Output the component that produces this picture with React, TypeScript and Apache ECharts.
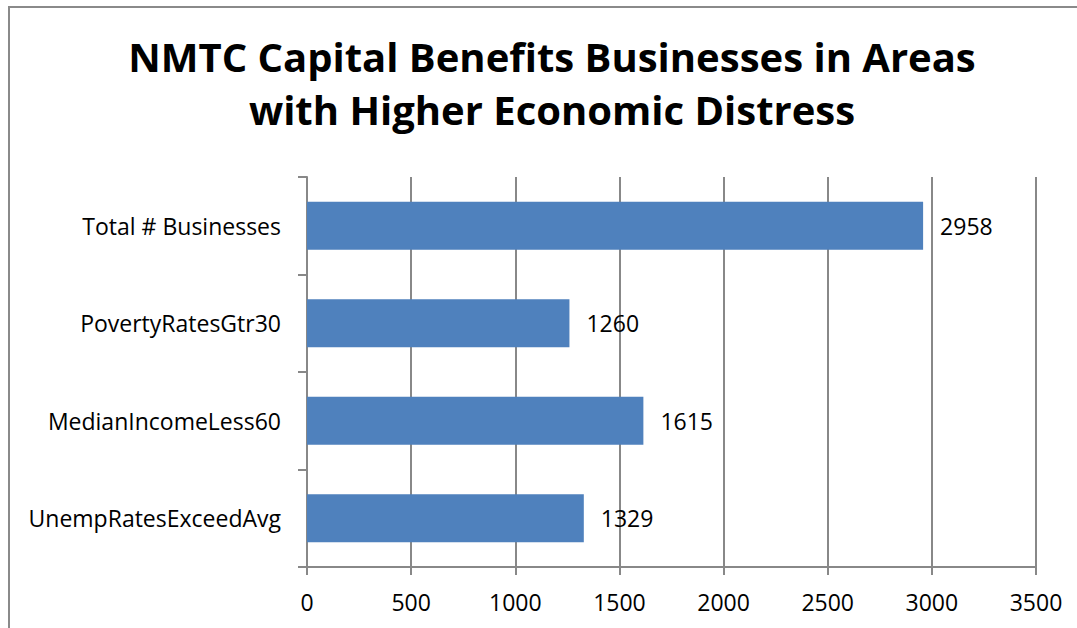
import React, { useEffect, useRef } from "react";
import * as echarts from "echarts";

const titleLines = ["NMTC Capital Benefits Businesses in Areas", "with Higher Economic Distress"];
const categories = ["Total # Businesses", "PovertyRatesGtr30", "MedianIncomeLess60", "UnempRatesExceedAvg"];
const values = [2958, 1260, 1615, 1329];
const axisMin = 0;
const axisMax = 3500;
const axisInterval = 500;

export default function App() {
  const ref = useRef<HTMLDivElement>(null);
  useEffect(() => {
    if (!ref.current) return;
    const chart = echarts.init(ref.current, null, { renderer: "svg" });
    const font = "'Open Sans', sans-serif";
    chart.setOption({
      animation: false,
      backgroundColor: "#ffffff",
      title: {
        text: titleLines.join("\n"),
        left: 547,
        top: 25,
        textAlign: "center",
        textStyle: {
          fontFamily: font,
          fontWeight: "bold",
          fontSize: 40,
          lineHeight: 53,
          color: "#000000",
        },
      },
      graphic: [
        {
          type: "rect",
          shape: { x: 9, y: 7, width: 1200, height: 800 },
          style: { fill: "none", stroke: "#8a8a8a", lineWidth: 2 },
          silent: true,
        },
      ],
      grid: { left: 307, right: 41, top: 177, bottom: 61, containLabel: false },
      xAxis: {
        type: "value",
        min: axisMin,
        max: axisMax,
        interval: axisInterval,
        axisLine: { show: true, lineStyle: { color: "#888888", width: 2 } },
        axisTick: { show: true, length: 8, lineStyle: { color: "#888888", width: 2 } },
        splitLine: { show: true, lineStyle: { color: "#888888", width: 2 } },
        axisLabel: {
          fontFamily: font,
          fontSize: 23,
          color: "#000000",
          margin: 23,
          formatter: (v: number) => String(v),
        },
      },
      yAxis: {
        type: "category",
        data: categories,
        inverse: true,
        axisLine: { show: true, lineStyle: { color: "#888888", width: 2 } },
        axisTick: { show: true, length: 9, lineStyle: { color: "#888888", width: 2 } },
        axisLabel: { fontFamily: font, fontSize: 23, color: "#000000", margin: 26 },
      },
      series: [
        {
          type: "bar",
          data: values,
          barWidth: 48,
          itemStyle: { color: "#4F81BD" },
          label: {
            show: true,
            position: "right",
            distance: 17,
            fontFamily: font,
            fontSize: 23,
            color: "#000000",
          },
        },
      ],
    });
    return () => chart.dispose();
  }, []);
  return (
    <div
      ref={ref}
      style={{ position: "absolute", left: 0, top: 0, width: 1077, height: 628 }}
    />
  );
}
